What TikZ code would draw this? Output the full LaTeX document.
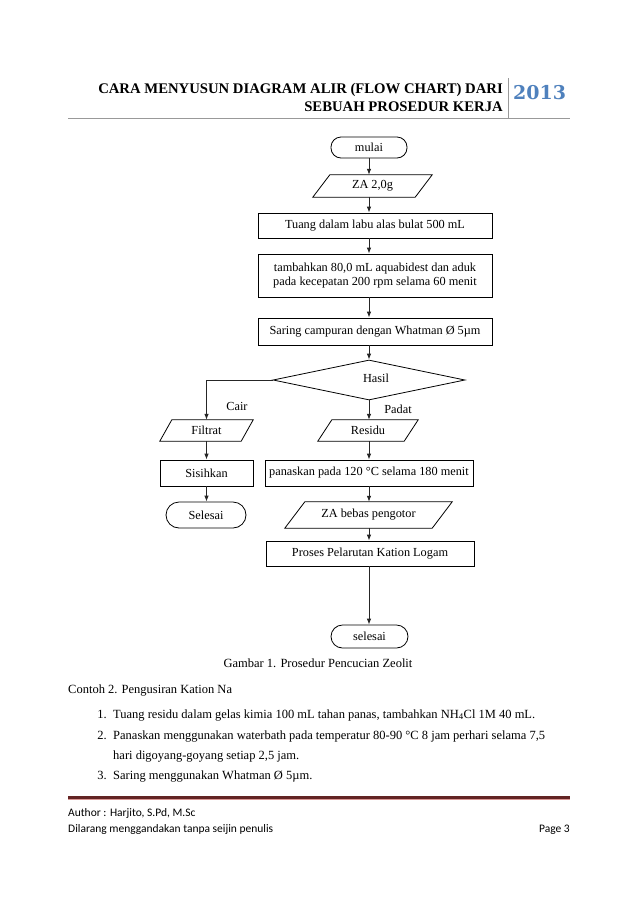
\documentclass[tikz,border=0pt]{standalone}
\usepackage{fontspec}
\setmainfont{Liberation Serif}
\newfontfamily\hdrnum{DejaVu Serif}
\newfontfamily\foot{Carlito}
\usetikzlibrary{shapes.geometric,arrows.meta,calc}
\definecolor{hdrblue}{HTML}{4F81BD}
\definecolor{maroon}{HTML}{622423}
\definecolor{lightmaroon}{HTML}{C0504D}
\newcommand{\flowfont}{\fontsize{12.3}{14}\selectfont}
\newcommand{\bodyfont}{\fontsize{12.5}{15}\selectfont}
\tikzset{
  boxnode/.style={draw, rectangle, inner sep=0pt, font=\flowfont, align=center, line width=0.8pt},
  termnode/.style={draw, rectangle, rounded corners=10pt, inner sep=0pt, font=\flowfont, line width=0.8pt},
  iobox/.style={rectangle, inner sep=0pt, font=\flowfont},
  dec/.style={draw, diamond, aspect=4.8, inner sep=0pt, font=\flowfont, line width=0.8pt},
  arr/.style={line width=0.8pt, draw=black!85, -{Latex[length=6pt,width=4.5pt]}},
  plain/.style={inner sep=0pt, anchor=base west},
}
\newcommand{\para}[2]{\draw[line width=0.8pt] ([xshift=#2]#1.north west) -- (#1.north east) -- ([xshift=-#2]#1.south east) -- (#1.south west) -- cycle;}
\begin{document}
\begin{tikzpicture}[x=1pt,y=-1pt]
\useasboundingbox (0,0) rectangle (638,903);
\fill[white] (0,0) rectangle (638,903);
% header
\node[inner sep=0pt, anchor=base east, font=\bfseries\fontsize{14.7}{16}\selectfont, align=right] (h1) at (503,93) {CARA MENYUSUN DIAGRAM ALIR (FLOW CHART) DARI};
\node[inner sep=0pt, anchor=base east, font=\bfseries\fontsize{14.7}{16}\selectfont] (h2) at (503,111) {SEBUAH PROSEDUR KERJA};
\node[inner sep=0pt, anchor=base west, font=\hdrnum\bfseries\fontsize{19}{20}\selectfont, text=hdrblue] (yr) at (513,99) {2013};
\coordinate (vt) at (508,78);
\coordinate (vb) at (508,118);
\draw[gray!80, line width=1pt] (vt) -- (vb);
\coordinate (hl) at (68,118.5);
\coordinate (hr) at (570,118.5);
\draw[gray!80, line width=1.6pt] (hl) -- (hr);
% flowchart nodes
\node[termnode, minimum width=76pt, minimum height=21pt] (mulai) at (369,147.5) {mulai};
\node[iobox, minimum width=119pt, minimum height=22pt] (za) at (372.5,186) {ZA 2,0g};
\para{za}{17}
\node[boxnode, minimum width=234pt, minimum height=25pt] (tuang) at (375,225.5) {Tuang dalam labu alas bulat 500 mL};
\node[boxnode, minimum width=234pt, minimum height=43pt, align=center] (tambah) at (375,275.5) {tambahkan 80,0 mL aquabidest dan aduk\\pada kecepatan 200 rpm selama 60 menit};
\node[boxnode, minimum width=234pt, minimum height=27pt] (saring) at (375,331.5) {Saring campuran dengan Whatman Ø 5µm};
\node[dec, minimum width=192pt, minimum height=40pt] (hasil) at (369,380) {};
\node[iobox] (hasiltxt) at (376,378) {Hasil};
\node[iobox, minimum width=93pt, minimum height=21pt] (filtrat) at (206.5,430.5) {Filtrat};
\para{filtrat}{12}
\node[iobox, minimum width=100pt, minimum height=21pt] (residu) at (368,430.5) {Residu};
\para{residu}{14}
\node[boxnode, minimum width=93pt, minimum height=26pt] (sisih) at (206.5,473) {Sisihkan};
\node[boxnode, minimum width=208pt, minimum height=26pt] (panas) at (369,473) {panaskan pada 120 °C selama 180 menit};
\node[termnode, rounded corners=13pt, minimum width=80pt, minimum height=26pt] (sel1) at (206,515) {Selesai};
\node[iobox, minimum width=167pt, minimum height=26pt] (bebas) at (368.5,515) {ZA bebas pengotor};
\para{bebas}{20}
\node[boxnode, minimum width=208pt, minimum height=25pt] (proses) at (370,553.5) {Proses Pelarutan Kation Logam};
\node[termnode, rounded corners=11.5pt, minimum width=77pt, minimum height=23pt] (sel2) at (369.5,636.5) {selesai};
\node[iobox] (cair) at (237,406) {Cair};
\node[iobox] (padat) at (398,409) {Padat};
% connectors
\draw[arr] (mulai.south) -- (mulai.south |- za.north);
\draw[arr] (mulai.south |- za.south) -- (mulai.south |- tuang.north);
\draw[arr] (mulai.south |- tuang.south) -- (mulai.south |- tambah.north);
\draw[arr] (mulai.south |- tambah.south) -- (mulai.south |- saring.north);
\draw[arr] (mulai.south |- saring.south) -- (hasil.north);
\draw[arr] (hasil.west) -| (filtrat.north);
\draw[arr] (hasil.south) -- (hasil.south |- residu.north);
\draw[arr] (filtrat.south) -- (sisih.north);
\draw[arr] (sisih.south) -- (sisih.south |- sel1.north);
\draw[arr] (hasil.south |- residu.south) -- (hasil.south |- panas.north);
\draw[arr] (hasil.south |- panas.south) -- (hasil.south |- bebas.north);
\draw[arr] (hasil.south |- bebas.south) -- (hasil.south |- proses.north);
\draw[arr] (hasil.south |- proses.south) -- (hasil.south |- sel2.north);
% caption and body
\node[inner sep=0pt, anchor=base, font=\bodyfont] (cap) at (318,667) {Gambar 1. Prosedur Pencucian Zeolit};
\node[plain, font=\bodyfont] (contoh) at (68,693) {Contoh 2. Pengusiran Kation Na};
\node[inner sep=0pt, anchor=base east, font=\bodyfont] (n1) at (107,718) {1.};
\node[plain, font=\bodyfont] (t1) at (113,718) {Tuang residu dalam gelas kimia 100 mL tahan panas, tambahkan NH\textsubscript{4}Cl 1M 40 mL.};
\node[inner sep=0pt, anchor=base east, font=\bodyfont] (n2) at (107,739) {2.};
\node[plain, font=\bodyfont] (t2) at (113,739) {Panaskan menggunakan waterbath pada temperatur 80-90 °C 8 jam perhari selama 7,5};
\node[plain, font=\bodyfont] (t2b) at (113,759) {hari digoyang-goyang setiap 2,5 jam.};
\node[inner sep=0pt, anchor=base east, font=\bodyfont] (n3) at (107,779) {3.};
\node[plain, font=\bodyfont] (t3) at (113,779) {Saring menggunakan Whatman Ø 5µm.};
% footer
\coordinate (fl) at (68,797);
\coordinate (fr) at (570,797);
\draw[maroon, line width=3pt] (fl) -- (fr);
\draw[lightmaroon!60, line width=1pt] ([yshift=-2.5pt]fl) -- ([yshift=-2.5pt]fr);
\node[plain, font=\foot\fontsize{11.5}{13}\selectfont] (auth) at (68,816) {Author : Harjito, S.Pd, M.Sc};
\node[plain, font=\foot\fontsize{11.5}{13}\selectfont] (dil) at (68,832) {Dilarang menggandakan tanpa seijin penulis};
\node[inner sep=0pt, anchor=base east, font=\foot\fontsize{11.5}{13}\selectfont] (pg) at (570,832) {Page 3};
\end{tikzpicture}
\end{document}
